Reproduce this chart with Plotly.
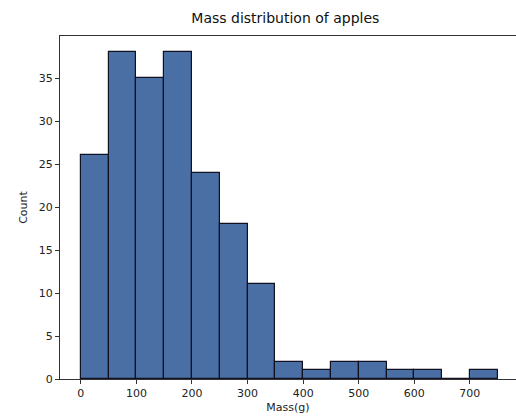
import plotly.graph_objects as go

bin_edges = [0, 50, 100, 150, 200, 250, 300, 350, 400, 450, 500, 550, 600, 650, 700, 750]
counts = [26, 38, 35, 38, 24, 18, 11, 2, 1, 2, 2, 1, 1, 0, 1]

centers = [(a + b) / 2 for a, b in zip(bin_edges[:-1], bin_edges[1:])]
widths = [b - a for a, b in zip(bin_edges[:-1], bin_edges[1:])]

fig = go.Figure(go.Bar(
    x=centers, y=counts, width=widths,
    marker=dict(color="#4a6fa5", line=dict(color="#111122", width=1.2)),
    hoverinfo="skip",
))

font = "DejaVu Sans"
fig.update_layout(
    width=516, height=419,
    margin=dict(l=60, r=0, t=36, b=40),
    paper_bgcolor="white", plot_bgcolor="white",
    showlegend=False,
    bargap=0,
    title=dict(text="Mass distribution of apples", x=0.553, xanchor="center",
               y=0.957, yanchor="middle", font=dict(family=font, size=14, color="#111")),
    font=dict(family=font, size=11, color="#222"),
)
fig.update_xaxes(
    range=[-37.5, 783], tickmode="array",
    tickvals=[0, 100, 200, 300, 400, 500, 600, 700],
    showgrid=False, zeroline=False, showline=True, linecolor="#333", linewidth=1,
    mirror=True, ticks="outside", ticklen=4, tickcolor="#333",
    title=dict(text="Mass(g)", font=dict(family=font, size=11), standoff=4),
)
fig.update_yaxes(
    range=[0, 39.9], tickmode="array", tickvals=[0, 5, 10, 15, 20, 25, 30, 35],
    showgrid=False, zeroline=False, showline=True, linecolor="#333", linewidth=1,
    mirror=False, ticks="outside", ticklen=4, tickcolor="#333",
    title=dict(text="Count", font=dict(family=font, size=11), standoff=8),
)
fig.write_html("out.html")
